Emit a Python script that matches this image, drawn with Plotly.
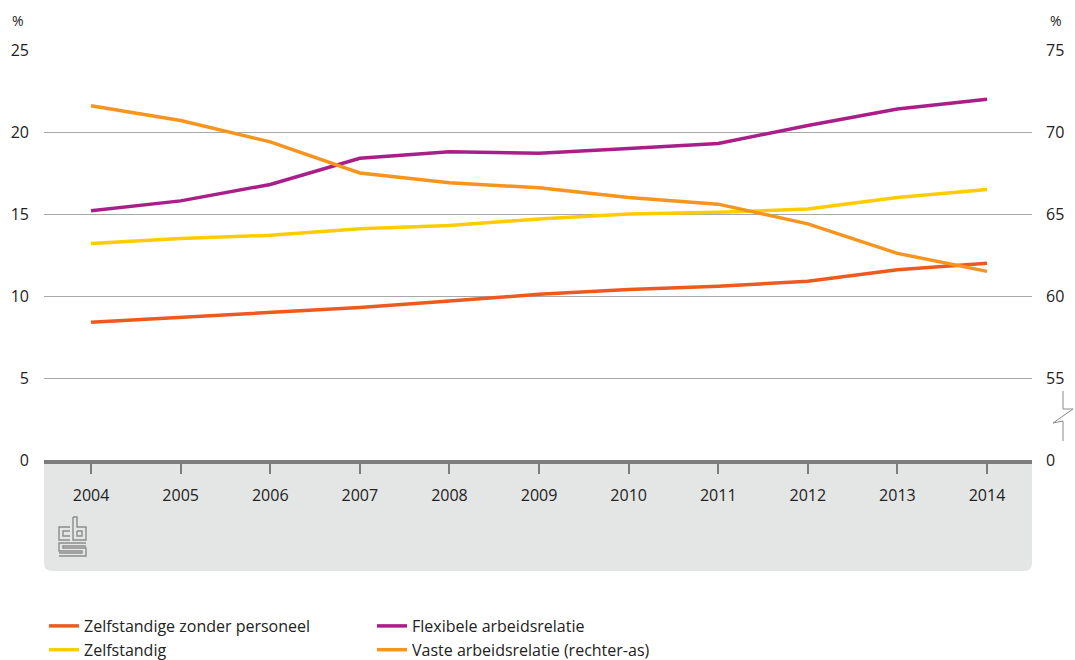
import plotly.graph_objects as go

years = list(range(2004, 2015))
zzp = [8.4, 8.7, 9.0, 9.3, 9.7, 10.1, 10.4, 10.6, 10.9, 11.6, 12.0]
zelfstandig = [13.2, 13.5, 13.7, 14.1, 14.3, 14.7, 15.0, 15.1, 15.3, 16.0, 16.5]
flexibel = [15.2, 15.8, 16.8, 18.4, 18.8, 18.7, 19.0, 19.3, 20.4, 21.4, 22.0]
vast = [71.6, 70.7, 69.4, 67.5, 66.9, 66.6, 66.0, 65.6, 64.4, 62.6, 61.5]

left_ticks = [0, 5, 10, 15, 20, 25]
right_tickvals = [50, 55, 60, 65, 70, 75]
right_ticktext = ["0", "55", "60", "65", "70", "75"]

names = ["Zelfstandige zonder personeel", "Zelfstandig",
         "Flexibele arbeidsrelatie", "Vaste arbeidsrelatie (rechter-as)"]
colors = ["#EE5A1E", "#FFCC00", "#AA1E8A", "#F7941D"]

W, H = 1075, 660
L, R, T, B = 44, 43, 50, 200
PW, PH = W - L - R, H - T - B


def px(x):
    return (x - L) / PW


def py(y):
    return (H - B - y) / PH


FONT = "Open Sans"
fig = go.Figure()

fig.add_trace(go.Scatter(x=years, y=zzp, name=names[0], mode="lines",
                         line=dict(color=colors[0], width=3.5), legend="legend"))
fig.add_trace(go.Scatter(x=years, y=zelfstandig, name=names[1], mode="lines",
                         line=dict(color=colors[1], width=3.5), legend="legend"))
fig.add_trace(go.Scatter(x=years, y=flexibel, name=names[2], mode="lines",
                         line=dict(color=colors[2], width=3.5), legend="legend2"))
fig.add_trace(go.Scatter(x=years, y=vast, name=names[3], mode="lines", yaxis="y2",
                         line=dict(color=colors[3], width=3.5), legend="legend2"))

shapes = []
# grey band under the axis with rounded bottom corners
x0, x1, y0, y1, r = px(44), px(1032), py(460), py(571), 8
rx, ry = r / PW, r / PH
band = (f"M {x0},{y0} L {x1},{y0} L {x1},{y1 + ry} Q {x1},{y1} {x1 - rx},{y1} "
        f"L {x0 + rx},{y1} Q {x0},{y1} {x0},{y1 + ry} Z")
shapes.append(dict(type="path", xref="paper", yref="paper", path=band,
                   fillcolor="#E4E5E5", line=dict(width=0), layer="below"))

# axis break symbol on right axis
bx = px(1063)
brk = (f"M {bx},{py(391)} L {bx},{py(409)} L {px(1073)},{py(409)} "
       f"L {px(1053)},{py(423)} L {bx},{py(421)} L {bx},{py(441)}")
shapes.append(dict(type="path", xref="paper", yref="paper", path=brk,
                   line=dict(color="#8a8a8a", width=1)))


# CBS logo (decorative)
def pth(points):
    return "M " + " L ".join(f"{px(a)},{py(b)}" for a, b in points)


lc = dict(color="#8c8c8c", width=1.4)
logo_paths = [
    # c
    [(70, 527), (59, 527), (59, 540), (70, 540)],
    [(70, 531), (63, 531), (63, 536), (70, 536)],
    # b
    [(73, 517), (73, 540), (86, 540), (86, 527), (77, 527), (77, 517), (73, 517)],
    [(77, 531), (82, 531), (82, 536), (77, 536), (77, 531)],
    # S
    [(86, 543), (59, 543), (59, 551), (82, 551), (82, 553), (59, 553)],
    [(59, 556), (86, 556), (86, 548), (63, 548), (63, 546), (86, 546)],
]
for p in logo_paths:
    shapes.append(dict(type="path", xref="paper", yref="paper", path=pth(p), line=lc))

annotations = [
    dict(text="%", xref="paper", yref="paper", x=px(10), y=py(21), xanchor="left",
         yanchor="middle", showarrow=False, font=dict(family=FONT, size=14, color="#222")),
    dict(text="%", xref="paper", yref="paper", x=px(1048), y=py(21), xanchor="left",
         yanchor="middle", showarrow=False, font=dict(family=FONT, size=14, color="#222")),
]

fig.update_layout(
    width=W, height=H,
    margin=dict(l=L, r=R, t=T, b=B, autoexpand=False),
    paper_bgcolor="white", plot_bgcolor="white",
    font=dict(family=FONT, size=16, color="#222222"),
    xaxis=dict(range=[2003.475, 2014.502], tickvals=years, ticktext=[str(y) for y in years],
               showgrid=False, zeroline=False, showline=True, linecolor="#7d7d7d",
               linewidth=4, ticks="outside", ticklen=10, tickwidth=2, tickcolor="#7d7d7d",
               ticklabelstandoff=8, tickfont=dict(size=16, color="#222")),
    yaxis=dict(range=[0, 25], tickvals=left_ticks, showgrid=True, gridcolor="#a8a8a8",
               gridwidth=1, zeroline=False, showline=False, ticks="",
               ticklabelstandoff=14, tickfont=dict(size=16, color="#222")),
    yaxis2=dict(range=[50, 75], tickvals=right_tickvals, ticktext=right_ticktext,
                overlaying="y", side="right", showgrid=False, zeroline=False,
                showline=False, ticks="", ticklabelstandoff=13,
                tickfont=dict(size=16, color="#222")),
    legend=dict(x=px(44), y=py(609), xanchor="left", yanchor="top", orientation="v",
                font=dict(family=FONT, size=16, color="#222"), tracegroupgap=0,
                bgcolor="rgba(0,0,0,0)"),
    legend2=dict(x=px(372), y=py(609), xanchor="left", yanchor="top", orientation="v",
                 font=dict(family=FONT, size=16, color="#222"), tracegroupgap=0,
                 bgcolor="rgba(0,0,0,0)"),
    shapes=shapes,
    annotations=annotations,
)

fig.write_html("out.html", config={"displayModeBar": False},
               post_script="document.body.style.margin='0px';document.body.style.overflow='hidden';")
